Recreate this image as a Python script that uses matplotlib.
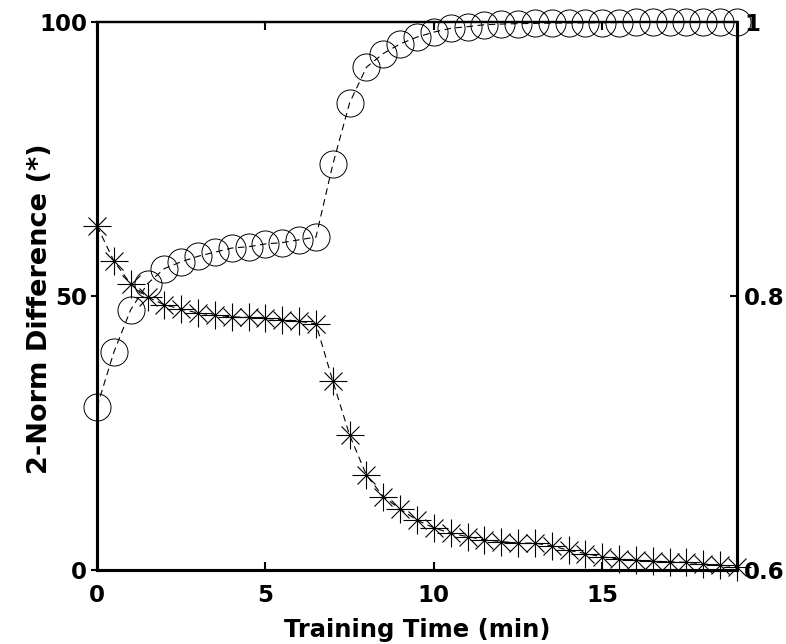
import numpy as np
import matplotlib
matplotlib.use("Agg")
import matplotlib.pyplot as plt

plt.rcParams['font.family'] = ['DejaVu Sans']
plt.rcParams['font.weight'] = 'bold'

# training time (min), one sample every 0.5 min
time_min = np.arange(0, 19.01, 0.5)

# 2-norm difference, left axis (asterisks)
norm_diff = [62.8, 56.4, 52.2, 49.8, 48.4, 47.6, 46.9, 46.5, 46.2, 46.1,
             45.9, 45.7, 45.4, 44.9, 34.5, 24.6, 17.3, 13.4, 11.1, 9.1,
             7.7, 6.7, 6.1, 5.5, 5.2, 4.9, 4.9, 4.4, 3.6, 3.0,
             2.4, 2.0, 1.8, 1.6, 1.5, 1.4, 1.1, 0.9, 0.6]

# right axis values (circles)
right_vals = [0.719, 0.759, 0.790, 0.809, 0.820, 0.825, 0.829, 0.832, 0.835, 0.836,
              0.838, 0.839, 0.841, 0.843, 0.896, 0.941, 0.967, 0.977, 0.984, 0.989,
              0.9926, 0.9954, 0.9966, 0.998, 0.9985, 0.9988, 0.999, 0.9992, 0.9993, 0.9994,
              0.9995, 0.9996, 0.9997, 0.9997, 0.9998, 0.9998, 0.9999, 0.9999, 1.0]

left_ticks = [0, 50, 100]
right_ticks = [0.6, 0.8, 1.0]
right_ticklabels = ['0.6', '0.8', '1']
x_ticks = [0, 5, 10, 15]

fig = plt.figure(figsize=(7.86, 6.44), dpi=100)
ax = fig.add_axes([97/786, 74/644, 640/786, 548/644])
ax2 = ax.twinx()

# asterisk = plus + smaller cross
ax.plot(time_min, norm_diff, color='black', linestyle=(0, (6, 4)), linewidth=0.8,
        clip_on=False)
ax.plot(time_min, norm_diff, linestyle='none', marker='+', markersize=19.5,
        markeredgewidth=0.8, color='black', clip_on=False)
ax.plot(time_min, norm_diff, linestyle='none', marker='x', markersize=13.5,
        markeredgewidth=0.8, color='black', clip_on=False)

ax2.plot(time_min, right_vals, color='black', linestyle=(0, (6, 4)), linewidth=0.8,
         marker='o', markersize=19.5, markerfacecolor='none',
         markeredgecolor='black', markeredgewidth=0.7, clip_on=False)

ax.set_xlim(0, 19)
ax.set_ylim(0, 100)
ax2.set_ylim(0.6, 1.0)

ax.set_xticks(x_ticks)
ax.set_yticks(left_ticks)
ax2.set_yticks(right_ticks)
ax2.set_yticklabels(right_ticklabels)

ax.tick_params(axis='x', direction='in', length=5.5, width=1.5, top=True,
               labelsize=16.5, pad=10)
ax.tick_params(axis='y', direction='out', length=4, width=1.5, labelsize=16.5, pad=3)
ax2.tick_params(axis='y', direction='in', length=5, width=1.5, labelsize=16.5, pad=5)

for a in (ax, ax2):
    for side in ('left', 'right', 'bottom'):
        a.spines[side].set_linewidth(2.2)
    a.spines['top'].set_linewidth(1.6)

ax.set_xlabel('Training Time (min)', fontsize=17.5, fontweight='bold')
ax.xaxis.set_label_coords(0.5, -0.087)
ax.set_ylabel('2-Norm Difference (*)', fontsize=19.5, fontweight='bold')
ax.yaxis.set_label_coords(-0.068, 0.476)

fig.savefig('out.png', dpi=100)
